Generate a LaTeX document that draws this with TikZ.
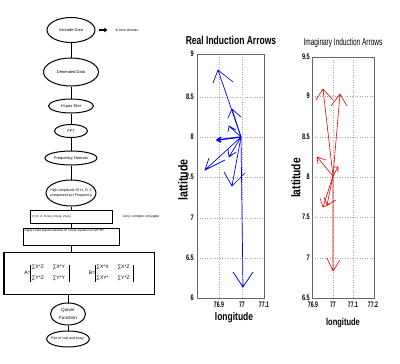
\documentclass[tikz,border=0pt]{standalone}
\usepackage{fontspec}
\setmainfont{Liberation Sans}
\usepackage{tikz}
\usetikzlibrary{shapes.geometric,positioning,arrows.meta}
\newcommand{\narrowtext}[2][0.72]{\scalebox{#1}[1]{#2}}
\setlength{\arrayrulewidth}{0.8pt}

\begin{document}
\begin{tikzpicture}[x=1pt,y=-1pt,on grid,
    stage/.style={ellipse, draw, line width=1pt, inner sep=0pt, align=center, font=\fontsize{4}{4.6}\selectfont},
    block/.style={rectangle, draw, line width=1pt, inner sep=1.5pt},
    note/.style={inner sep=0pt, font=\fontsize{3.3}{4}\selectfont},
    flow/.style={draw, line width=1pt},
    grid line/.style={gray!70, dotted, line width=0.5pt},
    frame/.style={draw, black!60, line width=0.6pt},
    ticklbl/.style={inner sep=1pt, font=\bfseries\fontsize{8}{8}\selectfont},
    realq/.style={blue, line width=0.7pt},
    imagq/.style={red!90!black, line width=0.6pt}]
\useasboundingbox (0,0) rectangle (400,364);

% processing chain
\node[stage, minimum width=48pt, minimum height=25pt] (varcode) at (71,30) {Varcode Data};
\node[note, right=56pt of varcode, font=\fontsize{3.5}{4}\selectfont] (timedom) {In time domain};
\node[stage, minimum width=55pt, minimum height=28pt] (detrend) [below=42pt of varcode] {Detrended Data};
\node[stage, minimum width=45pt, minimum height=14pt] (hipass) [below=34pt of detrend] {Hi-pas filter};
\node[stage, minimum width=33pt, minimum height=13pt] (fft) [below=25pt of hipass] {FFT};
\node[stage, minimum width=52pt, minimum height=14pt, inner xsep=-3pt] (freq) [below=27pt of fft] {Frequency Domain};
\node[stage, minimum width=50pt, minimum height=26pt, inner xsep=-6pt, font=\fontsize{3.6}{5}\selectfont] (amp) [below=35pt of freq] {High Amplitude Of H, D, Z\\component wrt Frequency};
\node[block, minimum width=82pt, minimum height=13pt, text width=77pt, align=left, font=\fontsize{3}{4}\selectfont] (comps) [below=23.5pt of amp] {H, D, Z, Hconj, Dconj, Zconj};
\node[note] (conjnote) [right=70pt of comps] {conj= complex conjugate};
\node[block, minimum width=96pt, minimum height=17pt,
      label={[anchor=north west, inner sep=2pt, font=\fontsize{3.1}{4}\selectfont]north west:Apply Least Square Method on Linear equation Z=AH+BY}] (lsq) [below=20pt of comps] {};
\node[block, minimum width=150pt, minimum height=42pt, font=\fontsize{5}{6}\selectfont] (coeffs) [below right=36.5pt and 8pt of lsq]
  {A=\begin{tabular}{|@{\,}l@{\hspace{9pt}}l@{\hspace{4pt}}|}∑X*Z & ∑X*Y\\[5pt]∑Y*Z & ∑Y*Y\end{tabular}\hspace{20pt}%
   B=\begin{tabular}{|@{\,}l@{\hspace{9pt}}l@{\hspace{4pt}}|}∑X*X & ∑X*Z\\[5pt]∑XY* & ∑Y*Z\end{tabular}};
\node[stage, minimum width=35pt, minimum height=22pt, inner xsep=-2pt, font=\fontsize{4.6}{8.5}\selectfont] (quiver) [below left=41pt and 11pt of coeffs] {Quiver\\Function};
\node[stage, minimum width=43pt, minimum height=16pt, inner xsep=-4pt, font=\fontsize{3.5}{4}\selectfont] (plotri) [below=25pt of quiver] {Plot of real and imag.};

\draw[flow, line width=1.5pt, -{Triangle[length=3pt,width=4.5pt]}, shorten <=3pt, shorten >=8pt] (varcode) -- (timedom);
\draw[flow] (varcode) -- (detrend);
\draw[flow] (detrend) -- (hipass);
\draw[flow] (hipass) -- (fft);
\draw[flow] (fft) -- (freq);
\draw[flow] (freq) -- (amp);
\draw[flow] (amp) -- (comps);
\draw[flow] (comps) -- (lsq);
\draw[flow] (lsq) -- (lsq |- coeffs.north);
\draw[flow] (quiver |- coeffs.south) -- (quiver);
\draw[flow] (quiver) -- (plotri);

% real induction arrows
\node[font=\bfseries\fontsize{11.5}{12}\selectfont] (realtitle) at (231,40) {\narrowtext[0.74]{Real Induction Arrows}};
\draw[grid line] (197,97) -- (264,97) (197,137) -- (264,137) (197,177) -- (264,177)
  (197,218) -- (264,218) (197,258) -- (264,258) (219,54) -- (219,298) (242,54) -- (242,298);
\draw[frame] (197,54) rectangle (264,298);
\node[ticklbl, anchor=east] (ry9) at (195,54) {\narrowtext[0.7]{9}};
\node[ticklbl, anchor=east] (ry85) at (195,97) {\narrowtext[0.7]{8.5}};
\node[ticklbl, anchor=east] (ry8) at (195,137) {\narrowtext[0.7]{8}};
\node[ticklbl, anchor=east] (ry75) at (195,177) {\narrowtext[0.7]{7.5}};
\node[ticklbl, anchor=east] (ry7) at (195,218) {\narrowtext[0.7]{7}};
\node[ticklbl, anchor=east] (ry65) at (195,258) {\narrowtext[0.7]{6.5}};
\node[ticklbl, anchor=east] (ry6) at (195,298) {\narrowtext[0.7]{6}};
\node[ticklbl, anchor=north] (rx769) at (219,301) {\narrowtext[0.65]{76.9}};
\node[ticklbl, anchor=north] (rx77) at (242,301) {\narrowtext[0.65]{77}};
\node[ticklbl, anchor=north] (rx771) at (264,301) {\narrowtext[0.65]{77.1}};
\node[font=\bfseries\fontsize{11}{12}\selectfont] (reallon) at (234,318) {\narrowtext[0.77]{longitude}};
\node[font=\bfseries\fontsize{13}{14}\selectfont, rotate=90] (reallat) at (183,180) {\narrowtext[0.82]{lattitude}};
\draw[realq] (241,137) -- (218,70) (213,83) -- (218,70) -- (233,82);
\draw[realq] (241,137) -- (232,109) (228,118) -- (232,109) -- (241,117);
\draw[realq] (241,137) -- (229,126) (228,132) -- (229,126) -- (236,130);
\draw[realq, line width=1.4pt] (241,137) -- (217,140) (221,137) -- (217,140) -- (221,142);
\draw[realq] (241,137) -- (205,170) (209,158) -- (205,170) -- (225,160);
\draw[realq] (241,137) -- (229,157) (228,149) -- (229,157) -- (236,152);
\draw[realq] (241,137) -- (232,186) (224,172) -- (232,186) -- (245,173);
\draw[realq] (241,137) -- (243,287) (233,272) -- (243,287) -- (253,272);

% imaginary induction arrows
\node[font=\fontsize{10}{11}\selectfont] (imagtitle) at (343,43) {\narrowtext[0.65]{Imaginary Induction Arrows}};
\draw[grid line] (312,96) -- (374,96) (312,137) -- (374,137) (312,177) -- (374,177)
  (312,217) -- (374,217) (312,258) -- (374,258) (333,57) -- (333,298) (353,57) -- (353,298);
\draw[frame] (312,57) rectangle (374,298);
\node[ticklbl, anchor=east] (iy95) at (311,57) {\narrowtext[0.7]{9.5}};
\node[ticklbl, anchor=east] (iy9) at (311,96) {\narrowtext[0.7]{9}};
\node[ticklbl, anchor=east] (iy85) at (311,137) {\narrowtext[0.7]{8.5}};
\node[ticklbl, anchor=east] (iy8) at (311,177) {\narrowtext[0.7]{8}};
\node[ticklbl, anchor=east] (iy75) at (311,217) {\narrowtext[0.7]{7.5}};
\node[ticklbl, anchor=east] (iy7) at (311,258) {\narrowtext[0.7]{7}};
\node[ticklbl, anchor=east] (iy65) at (311,298) {\narrowtext[0.7]{6.5}};
\node[ticklbl, anchor=north] (ix769) at (313,301) {\narrowtext[0.65]{76.9}};
\node[ticklbl, anchor=north] (ix77) at (333,301) {\narrowtext[0.65]{77}};
\node[ticklbl, anchor=north] (ix771) at (353,301) {\narrowtext[0.65]{77.1}};
\node[ticklbl, anchor=north] (ix772) at (373,301) {\narrowtext[0.65]{77.2}};
\node[font=\bfseries\fontsize{10}{11}\selectfont] (imaglon) at (343,323) {\narrowtext[0.75]{longitude}};
\node[font=\bfseries\fontsize{12.5}{14}\selectfont, rotate=90] (imaglat) at (296,178) {\narrowtext[0.82]{lattitude}};
\draw[imagq] (333,176) -- (323,89) (316,100) -- (323,89) -- (333,100);
\draw[imagq] (333,176) -- (340,94) (331,106) -- (340,94) -- (347,106);
\draw[imagq] (333,176) -- (317,157) (318,164) -- (317,157) -- (326,160);
\draw[imagq] (333,176) -- (338,167) (333,167) -- (338,167) -- (338,172);
\draw[imagq] (333,176) -- (323,207) (320,198) -- (323,207) -- (330,204);
\draw[imagq] (333,176) -- (327,205) (324,197) -- (327,205) -- (336,200);
\draw[imagq] (333,176) -- (333,271) (327,258) -- (333,271) -- (340,260);
\end{tikzpicture}
\end{document}
